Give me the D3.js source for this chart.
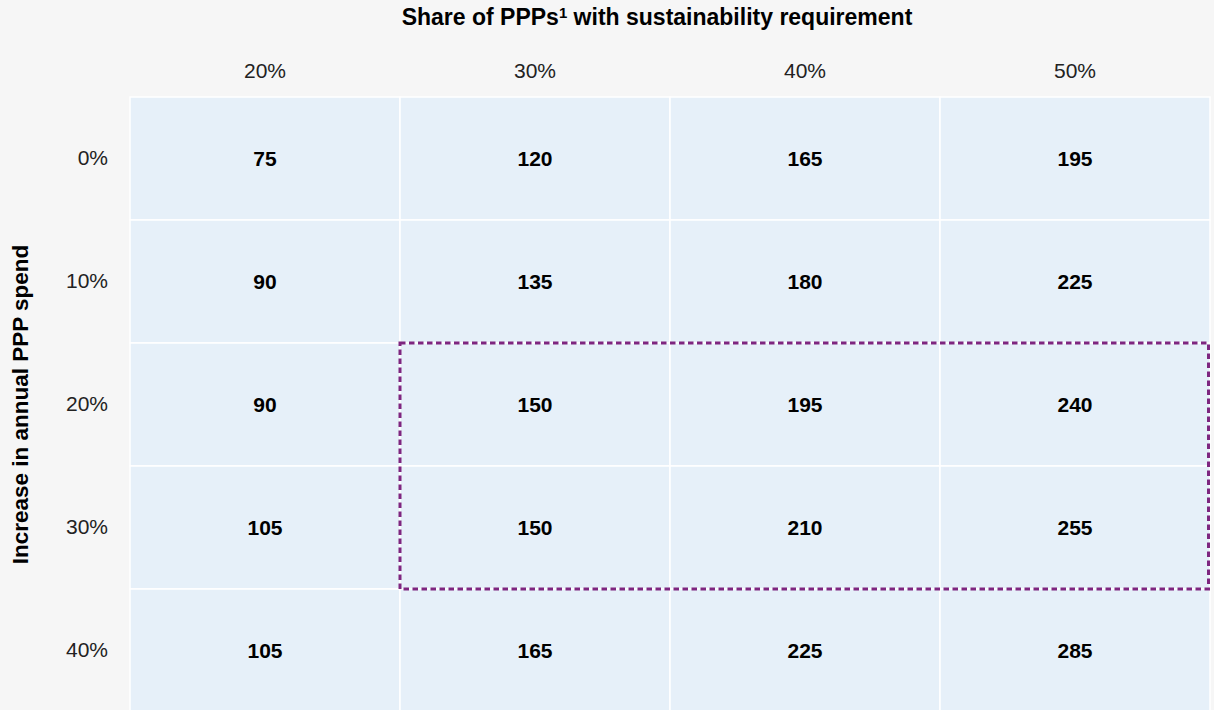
<!DOCTYPE html>
<html>
<head>
<meta charset="utf-8">
<script src="https://cdn.jsdelivr.net/npm/d3@7/dist/d3.min.js"></script>
<style>
  html, body { margin: 0; padding: 0; background: #f6f6f6; }
  svg { display: block; }
</style>
</head>
<body>
<svg id="chart" width="1214" height="710"></svg>
<script>
// ---- data ----
const columns = ["20%", "30%", "40%", "50%"];   // Share of PPPs with sustainability requirement
const rows = ["0%", "10%", "20%", "30%", "40%"]; // Increase in annual PPP spend
const row0 = [75, 120, 165, 195];
const row10 = [90, 135, 180, 225];
const row20 = [90, 150, 195, 240];
const row30 = [105, 150, 210, 255];
const row40 = [105, 165, 225, 285];
const highlightRows = ["20%", "30%"];
const highlightCols = ["30%", "50%"];
const xTitle = "Share of PPPs";
const xTitleSup = "1";
const xTitleRest = " with sustainability requirement";
const yTitle = "Increase in annual PPP spend";

const values = [row0, row10, row20, row30, row40];
const cells = [];
rows.forEach((r, i) => columns.forEach((c, j) => cells.push({ row: r, col: c, value: values[i][j] })));

// ---- layout ----
const svg = d3.select("#chart");
const W = 1214, H = 710;
const gridLeft = 130, gridRight = 1210, gridTop = 97, gridBottom = 712;

svg.append("rect").attr("width", W).attr("height", H).attr("fill", "#f6f6f6");

const x = d3.scaleBand().domain(columns).range([gridLeft, gridRight]).padding(0);
const y = d3.scaleBand().domain(rows).range([gridTop, gridBottom]).padding(0);

const font = "'Liberation Sans', Arial, Helvetica, sans-serif";

// cells
svg.append("g").selectAll("rect").data(cells).join("rect")
  .attr("x", d => x(d.col))
  .attr("y", d => y(d.row))
  .attr("width", x.bandwidth())
  .attr("height", y.bandwidth())
  .attr("fill", "#e6f0f9")
  .attr("stroke", "#ffffff")
  .attr("stroke-width", 1.5);

// values
svg.append("g").selectAll("text").data(cells).join("text")
  .attr("x", d => x(d.col) + x.bandwidth() / 2)
  .attr("y", d => y(d.row) + y.bandwidth() / 2)
  .attr("dy", "0.36em")
  .attr("text-anchor", "middle")
  .attr("font-family", font)
  .attr("font-weight", "bold")
  .attr("font-size", 21)
  .attr("fill", "#000")
  .text(d => d.value);

// top axis
const xAxis = svg.append("g")
  .attr("transform", `translate(0,${gridTop})`)
  .call(d3.axisTop(x).tickSize(0).tickPadding(19));
xAxis.select(".domain").remove();
xAxis.selectAll("text")
  .attr("font-family", font)
  .attr("font-size", 21)
  .attr("fill", "#222");

// left axis
const yAxis = svg.append("g")
  .attr("transform", `translate(${gridLeft},0)`)
  .call(d3.axisLeft(y).tickSize(0).tickPadding(22));
yAxis.select(".domain").remove();
yAxis.selectAll("text")
  .attr("font-family", font)
  .attr("font-size", 21)
  .attr("fill", "#222");

// highlight dashed box
const hx0 = x(highlightCols[0]);
const hx1 = x(highlightCols[1]) + x.bandwidth();
const hy0 = y(highlightRows[0]);
const hy1 = y(highlightRows[1]) + y.bandwidth();
svg.append("rect")
  .attr("x", hx0)
  .attr("y", hy0)
  .attr("width", hx1 - hx0 - 1.5)
  .attr("height", hy1 - hy0)
  .attr("fill", "none")
  .attr("stroke", "#7e2680")
  .attr("stroke-width", 3)
  .attr("stroke-dasharray", "5.5,3.5");

// x title
const t = svg.append("text")
  .attr("x", 657)
  .attr("y", 25)
  .attr("text-anchor", "middle")
  .attr("font-family", font)
  .attr("font-weight", "bold")
  .attr("font-size", 23)
  .attr("fill", "#000");
t.append("tspan").text(xTitle);
t.append("tspan").attr("dy", "-0.45em").attr("font-size", "65%").text(xTitleSup);
t.append("tspan").attr("dy", "0.29em").text(xTitleRest);

// y title
svg.append("text")
  .attr("transform", `translate(28,${(gridTop + gridBottom) / 2}) rotate(-90)`)
  .attr("text-anchor", "middle")
  .attr("font-family", font)
  .attr("font-weight", "bold")
  .attr("font-size", 22.5)
  .attr("fill", "#000")
  .text(yTitle);
</script>
</body>
</html>
